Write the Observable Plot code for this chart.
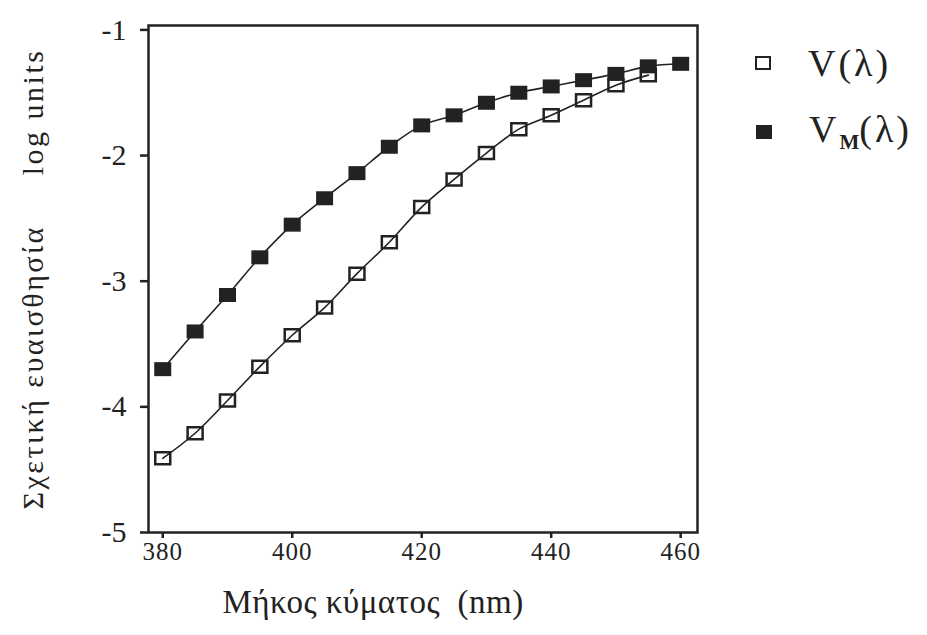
<!DOCTYPE html>
<html>
<head>
<meta charset="utf-8">
<script src="https://cdn.jsdelivr.net/npm/d3@7"></script>
<script src="https://cdn.jsdelivr.net/npm/@observablehq/plot@0.6"></script>
<style>
  html, body { margin: 0; padding: 0; background: #fff; }
  #wrap { position: relative; width: 927px; height: 635px; font-family: "Liberation Serif", "DejaVu Serif", serif; color: #222; }
  #chart svg { display: block; }
  #chart g[aria-label="y-axis tick label"] { font-size: 30px; }
  #chart g[aria-label="x-axis tick label"] { font-size: 25px; letter-spacing: 1px; }
  #chart g[aria-label="y-axis label"] { font-size: 30px; letter-spacing: 2.5px; }
  #chart .xtitle { font-size: 33px; letter-spacing: 0.5px; }
  .legend { position: absolute; left: 0; top: 0; }
  .item { position: absolute; display: flex; align-items: center; }
  .sw { box-sizing: border-box; width: 16px; height: 14px; margin-right: 37px; }
  .sw.open { border: 2.5px solid #222; background: none; }
  .sw.filled { background: #222; }
  .lab { font-size: 38px; line-height: 1; white-space: nowrap; letter-spacing: 3px; }
  .lab sub { font-size: 21px; font-weight: bold; vertical-align: -7px; letter-spacing: 0; }
</style>
</head>
<body>
<div id="wrap">
  <div id="chart"></div>
  <div class="legend">
    <div class="item" style="left:755px; top:44px;"><span class="sw open"></span><span class="lab">V(λ)</span></div>
    <div class="item" style="left:756px; top:110px;"><span class="sw filled"></span><span class="lab">V<sub>M</sub>(λ)</span></div>
  </div>
</div>
<script>
// Wavelengths (nm) and relative sensitivity (log units)
const wavelengthV = [380, 385, 390, 395, 400, 405, 410, 415, 420, 425, 430, 435, 440, 445, 450, 455];
const sensitivityV = [-4.41, -4.21, -3.95, -3.68, -3.43, -3.21, -2.94, -2.69, -2.41, -2.19, -1.98, -1.79, -1.68, -1.56, -1.44, -1.36];

const wavelengthVM = [380, 385, 390, 395, 400, 405, 410, 415, 420, 425, 430, 435, 440, 445, 450, 455, 460];
const sensitivityVM = [-3.70, -3.40, -3.11, -2.81, -2.55, -2.34, -2.14, -1.93, -1.76, -1.68, -1.58, -1.50, -1.45, -1.40, -1.35, -1.29, -1.27];

const xTicks = [380, 400, 420, 440, 460];
const yTicks = [-5, -4, -3, -2, -1];

const xLabel = "Μήκος κύματος  (nm)";
const yLabel = "Σχετική ευαισθησία     log units";

const seriesV = wavelengthV.map((w, i) => ({w, s: sensitivityV[i]}));
const seriesVM = wavelengthVM.map((w, i) => ({w, s: sensitivityVM[i]}));

// Rectangular markers, slightly wider than tall
const openRect = {draw(ctx) { ctx.rect(-7.5, -6, 15, 12); }};
const filledRect = {draw(ctx) { ctx.rect(-8.5, -7, 17, 14); }};

const ink = "#222";

const chart = Plot.plot({
  width: 927,
  height: 635,
  marginLeft: 148,
  marginRight: 230,
  marginTop: 25,
  marginBottom: 103,
  style: {fontFamily: "'Liberation Serif', 'DejaVu Serif', serif", color: ink, background: "white", overflow: "visible"},
  x: {domain: [377.8, 462.6]},
  y: {domain: [-5, -0.965]},
  marks: [
    Plot.frame({stroke: ink, strokeWidth: 2.5}),
    Plot.axisY({ticks: yTicks, tickFormat: d => String(d), tickSize: 8, tickPadding: 14, strokeWidth: 2.5,
      label: yLabel, labelAnchor: "center", labelOffset: 127, labelArrow: "none"}),
    Plot.axisX({ticks: xTicks, tickFormat: d => String(d), tickSize: 6, tickPadding: 4, strokeWidth: 2.5, label: null}),
    // x-axis title, sitting a little left of the frame's centre
    Plot.text([xLabel], {text: d => d, frameAnchor: "bottom", dx: -50, dy: 57, lineAnchor: "top",
      className: "xtitle", fill: ink}),
    Plot.line(seriesV, {x: "w", y: "s", curve: "catmull-rom", stroke: ink, strokeWidth: 1.6}),
    Plot.line(seriesVM, {x: "w", y: "s", curve: "catmull-rom", stroke: ink, strokeWidth: 1.6}),
    Plot.dot(seriesV, {x: "w", y: "s", symbol: openRect, fill: "none", stroke: ink, strokeWidth: 2.5}),
    Plot.dot(seriesVM, {x: "w", y: "s", symbol: filledRect, fill: ink, stroke: "none"})
  ]
});

document.getElementById("chart").appendChild(chart);
</script>
</body>
</html>
